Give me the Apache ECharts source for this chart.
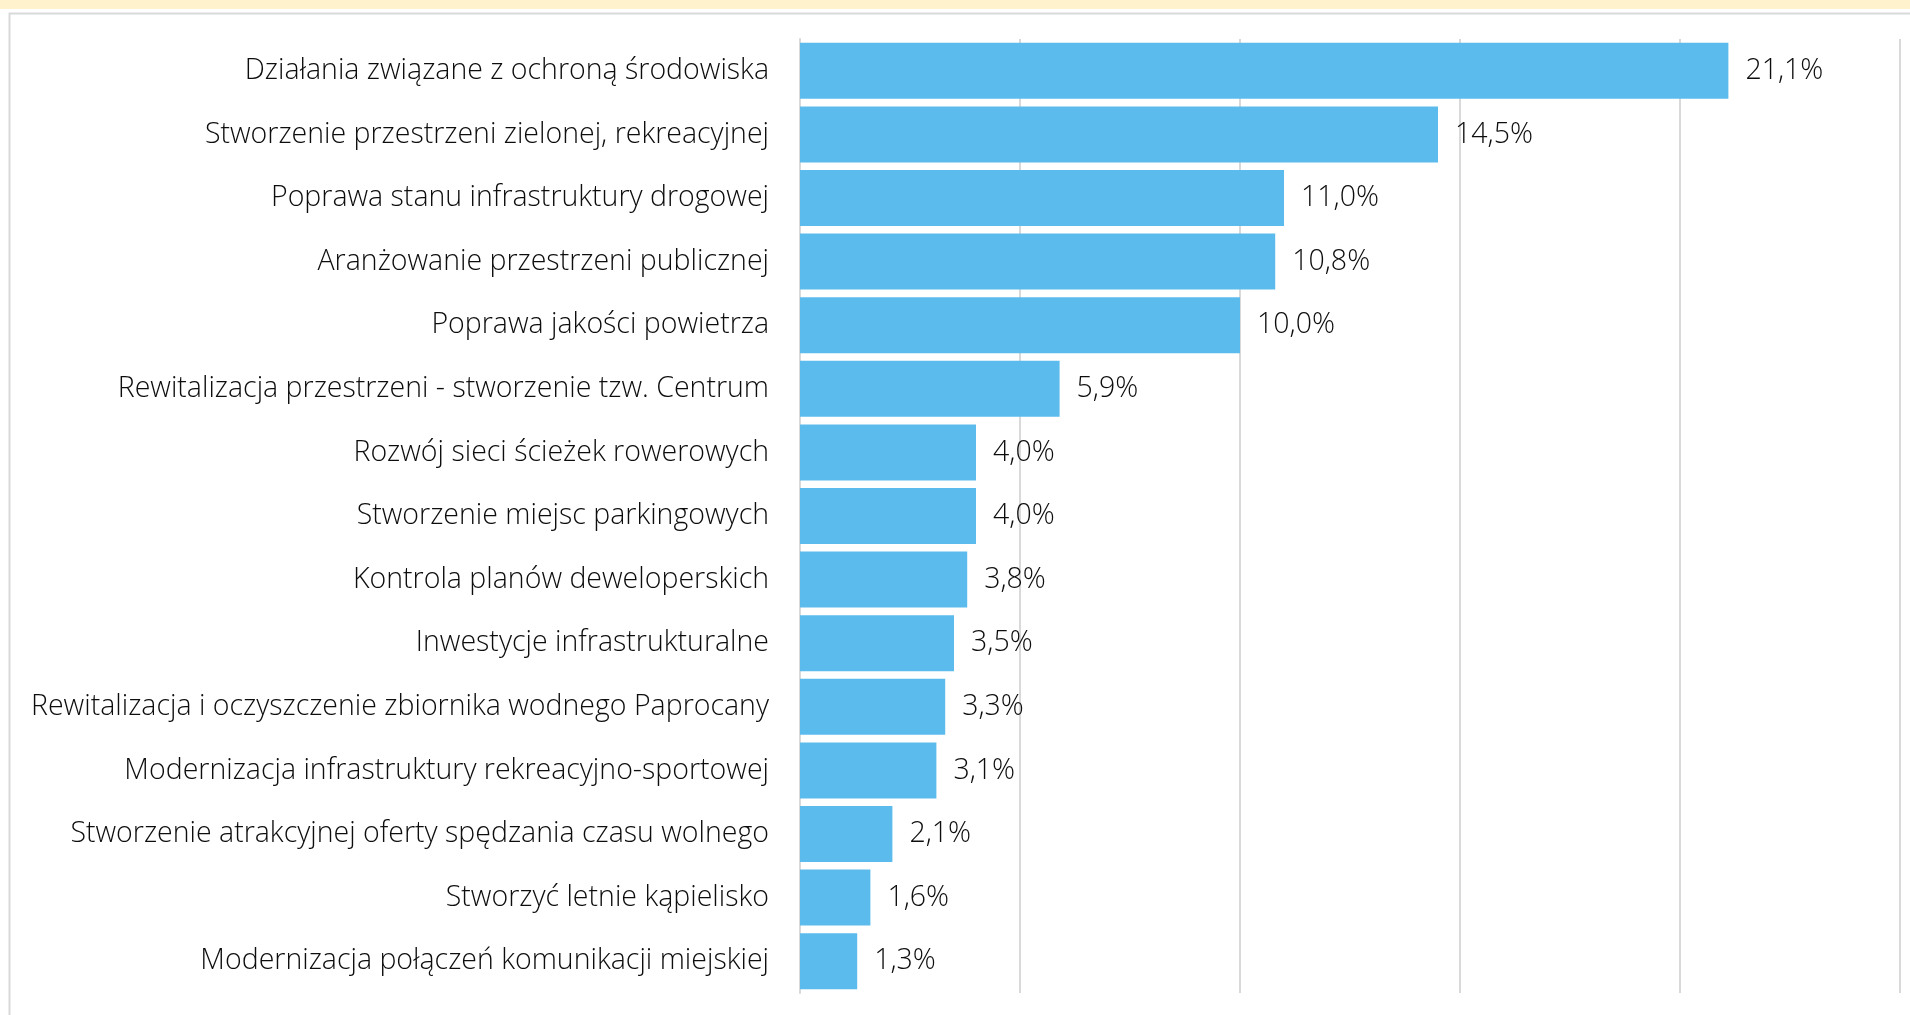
<!DOCTYPE html>
<html>
<head>
<meta charset="utf-8">
<script src="https://cdn.jsdelivr.net/npm/echarts@6/dist/echarts.min.js"></script>
<style>
html,body{margin:0;padding:0;background:#fff;}
#chart{width:1910px;height:1015px;}
</style>
</head>
<body>
<div id="chart"></div>
<script>
const categories = [
  'Działania związane z ochroną środowiska',
  'Stworzenie przestrzeni zielonej, rekreacyjnej',
  'Poprawa stanu infrastruktury drogowej',
  'Aranżowanie przestrzeni publicznej',
  'Poprawa jakości powietrza',
  'Rewitalizacja przestrzeni - stworzenie tzw. Centrum',
  'Rozwój sieci ścieżek rowerowych',
  'Stworzenie miejsc parkingowych',
  'Kontrola planów deweloperskich',
  'Inwestycje infrastrukturalne',
  'Rewitalizacja i oczyszczenie zbiornika wodnego Paprocany',
  'Modernizacja infrastruktury rekreacyjno-sportowej',
  'Stworzenie atrakcyjnej oferty spędzania czasu wolnego',
  'Stworzyć letnie kąpielisko',
  'Modernizacja połączeń komunikacji miejskiej'
];
const values = [21.1, 14.5, 11.0, 10.8, 10.0, 5.9, 4.0, 4.0, 3.8, 3.5, 3.3, 3.1, 2.1, 1.6, 1.3];

const FONT = '"Open Sans", sans-serif';
const chart = echarts.init(document.getElementById('chart'), null, {renderer: 'canvas'});
chart.setOption({
  animation: false,
  backgroundColor: '#ffffff',
  graphic: [
    {type: 'rect', left: 0, top: 0, shape: {width: 1910, height: 9}, style: {fill: '#FFF2CC'}, z: 0},
    {type: 'rect', left: 7, top: 11, shape: {x: 0, y: 0, width: 1930, height: 1030}, style: {fill: 'none', stroke: '#D9D9D9', lineWidth: 2}, z: 0}
  ],
  grid: {left: 800, right: 10, top: 39, bottom: 22, containLabel: false},
  xAxis: {
    type: 'value', min: 0, max: 25, interval: 5,
    axisLabel: {show: false}, axisLine: {show: false}, axisTick: {show: false},
    splitLine: {show: true, lineStyle: {color: '#D9D9D9', width: 2}}
  },
  yAxis: {
    type: 'category', data: categories, inverse: true,
    axisLine: {show: true, lineStyle: {color: '#D9D9D9', width: 2}},
    axisTick: {show: false},
    axisLabel: {color: '#0d0d0d', fontFamily: FONT, fontSize: 28.5, fontWeight: 300, margin: 31, padding: [12, 0, 0, 0]}
  },
  series: [{
    type: 'bar', data: values, barCategoryGap: '12%',
    itemStyle: {color: '#5BBBEC'},
    label: {
      show: true, position: 'right', distance: 17,
      color: '#0d0d0d', fontFamily: FONT, fontSize: 28.5, fontWeight: 300, padding: [12, 0, 0, 0],
      formatter: p => p.value.toFixed(1).replace('.', ',') + '%'
    }
  }]
});
</script>
</body>
</html>
